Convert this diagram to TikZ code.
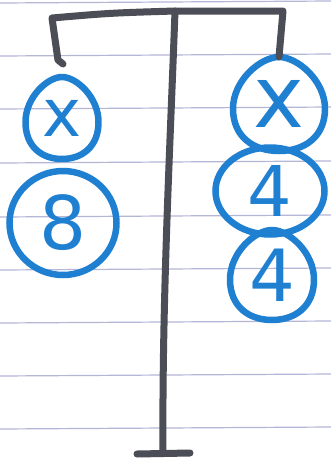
\documentclass[tikz,border=0pt]{standalone}
\usepackage{fontspec}
\setmainfont{DejaVu Sans}
\usetikzlibrary{shapes.geometric}
\definecolor{marker}{HTML}{1F80D2}
\definecolor{pencil}{HTML}{4B4E57}
\definecolor{ruling}{HTML}{B4B6D6}
\newcommand\teardrop[3]{%
  \draw[ringline, shift={(#1.center)}] (0,-#3)
    .. controls (0.4*#2,-#3) and (#2,-0.5*#3) .. (#2,0.1*#3)
    .. controls (#2,0.7*#3) and (0.55*#2,#3) .. (0,#3)
    .. controls (-0.55*#2,#3) and (-#2,0.7*#3) .. (-#2,0.1*#3)
    .. controls (-#2,-0.5*#3) and (-0.4*#2,-#3) .. cycle;}
\begin{document}
\begin{tikzpicture}[x=1pt,y=-1pt,
  ring/.style={ellipse, draw=marker, line width=6.5pt, inner sep=0pt, text=marker},
  dropnode/.style={ellipse, inner sep=0pt, text=marker},
  ringline/.style={draw=marker, line width=6.5pt, line join=round},
  bar/.style={draw=pencil, line width=7pt, line cap=round, line join=round},
  paperline/.style={draw=ruling, line width=1.2pt}]
\useasboundingbox[fill=white] (0,0) rectangle (331,459);
\foreach \y in {2,55,108,162,216,269,322,375,428}
  \draw[paperline] (0,\y+1) -- (331,\y-1);
% weights
\node[dropnode, minimum width=73pt, minimum height=82pt] (lx) at (62,118) {\fontsize{66}{66}\selectfont x};
\teardrop{lx}{36.5}{41}
\node[ring, minimum width=107pt, minimum height=104pt] (l8) at (63,223) {\fontsize{74}{74}\selectfont 8};
\node[dropnode, minimum width=92pt, minimum height=94pt] (rx) at (279,104) {\fontsize{86}{86}\selectfont x};
\teardrop{rx}{46}{47}
\node[ring, minimum width=109pt, minimum height=87pt] (r4a) at (270,191) {\fontsize{70}{70}\selectfont 4};
\node[dropnode, minimum width=84pt, minimum height=90pt] (r4b) at (272,275) {\fontsize{72}{72}\selectfont 4};
\teardrop{r4b}{42}{45}
% balance
\coordinate (bl) at (52,18);
\coordinate (top) at (175,11);
\coordinate (br) at (283,11);
\coordinate (hook) at (63,64);
\coordinate (base) at (163,452);
\coordinate (footl) at (137,454);
\coordinate (footr) at (190,453);
\draw[bar] (hook) -- (58,60) -- (bl) .. controls (110,13) .. (top) -- (br) -- (rx.north);
\draw[bar] (top) .. controls (170,150) and (162,300) .. (base);
\draw[bar] (footl) -- (footr);
\end{tikzpicture}
\end{document}
